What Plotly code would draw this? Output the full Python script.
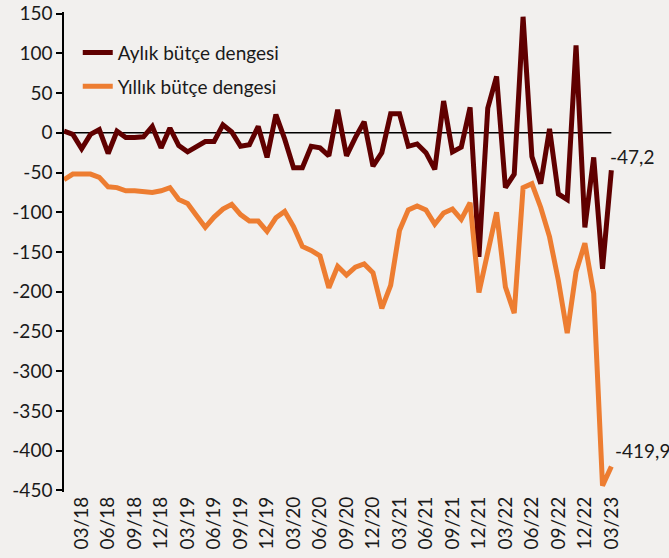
import plotly.graph_objects as go

months = ["01/18","02/18","03/18","04/18","05/18","06/18","07/18","08/18","09/18","10/18","11/18","12/18",
          "01/19","02/19","03/19","04/19","05/19","06/19","07/19","08/19","09/19","10/19","11/19","12/19",
          "01/20","02/20","03/20","04/20","05/20","06/20","07/20","08/20","09/20","10/20","11/20","12/20",
          "01/21","02/21","03/21","04/21","05/21","06/21","07/21","08/21","09/21","10/21","11/21","12/21",
          "01/22","02/22","03/22","04/22","05/22","06/22","07/22","08/22","09/22","10/22","11/22","12/22",
          "01/23","02/23","03/23"]

aylik = [2, -2, -20, -2, 4, -26, 2, -6, -6, -5,
         8, -19, 6, -16, -24, -18, -11, -11, 10, 1,
         -17, -15, 8, -31, 23, -8, -44, -44, -17, -19,
         -29, 29, -29, -6, 14, -42, -25, 24, 24, -17,
         -14, -25, -46, 40, -24, -18, 32, -156, 31, 71,
         -69, -52, 146, -30, -64, 5, -77, -84, 110, -119,
         -31, -171, -47.2]

yillik = [-59, -52, -52, -52, -56, -68, -69, -73, -73, -74,
          -75, -73, -69, -84, -89, -104, -119, -106, -96, -90,
          -103, -111, -111, -124, -107, -99, -118, -143, -148, -155,
          -195, -168, -179, -169, -165, -176, -221, -192, -123, -97,
          -92, -97, -115, -101, -96, -109, -88, -201, -152, -100,
          -194, -227, -69, -64, -94, -131, -186, -252, -175, -139,
          -202, -444, -419.9]

y_ticks = [150, 100, 50, 0, -50, -100, -150, -200, -250, -300, -350, -400, -450]

DARK = "#600000"
ORANGE = "#ED7D31"
BG = "#F2F0EE"
FONT = "Lato"

idx = list(range(len(months)))
tick_idx = [i for i in idx if months[i].startswith(("03/", "06/", "09/", "12/"))]

fig = go.Figure()
fig.add_trace(go.Scatter(x=idx, y=aylik, mode="lines", name="Aylık bütçe dengesi",
                         line=dict(color=DARK, width=5), legendgroup="a"))
fig.add_trace(go.Scatter(x=idx, y=yillik, mode="lines", name="Yıllık bütçe dengesi",
                         line=dict(color=ORANGE, width=5), legendgroup="b"))

fig.add_shape(type="line", xref="x", yref="y", x0=0, x1=idx[-1], y0=0, y1=0,
              line=dict(color="black", width=1.5), layer="below")

def fmt(v):
    return ("%.1f" % v).replace(".", ",")

fig.add_annotation(x=idx[-1], y=aylik[-1], text=fmt(aylik[-1]), showarrow=False,
                   xanchor="left", yanchor="middle", xshift=-3, yshift=14,
                   font=dict(family=FONT, size=19, color="#1a1a1a"))
fig.add_annotation(x=idx[-1], y=yillik[-1], text=fmt(yillik[-1]), showarrow=False,
                   xanchor="left", yanchor="middle", xshift=2, yshift=16,
                   font=dict(family=FONT, size=19, color="#1a1a1a"))

fig.update_layout(
    width=669, height=558,
    margin=dict(l=64, r=55, t=12, b=66, autoexpand=False),
    paper_bgcolor=BG, plot_bgcolor=BG,
    font=dict(family=FONT, size=19, color="#1a1a1a"),
    showlegend=True,
    legend=dict(x=0.025, y=0.955, xanchor="left", yanchor="top",
                bgcolor="rgba(0,0,0,0)", font=dict(family=FONT, size=19),
                traceorder="grouped", tracegroupgap=6, itemwidth=30),
    xaxis=dict(range=[0, idx[-1] + 0.3], tickmode="array", tickvals=tick_idx,
               ticktext=[months[i] for i in tick_idx], tickangle=-90, automargin=False,
               showgrid=False, zeroline=False, showline=False, ticks=""),
    yaxis=dict(range=[-452, 152], tickmode="array", tickvals=y_ticks,
               ticktext=[str(v) for v in y_ticks], automargin=False,
               showgrid=False, zeroline=False, showline=True, linecolor="black",
               linewidth=1.5, ticks="outside", ticklen=6, tickcolor="black", tickwidth=1.5),
)

fig.write_html("out.html", config={"displayModeBar": False},
               post_script="document.body.style.margin='0';document.body.style.background='#F2F0EE';")
